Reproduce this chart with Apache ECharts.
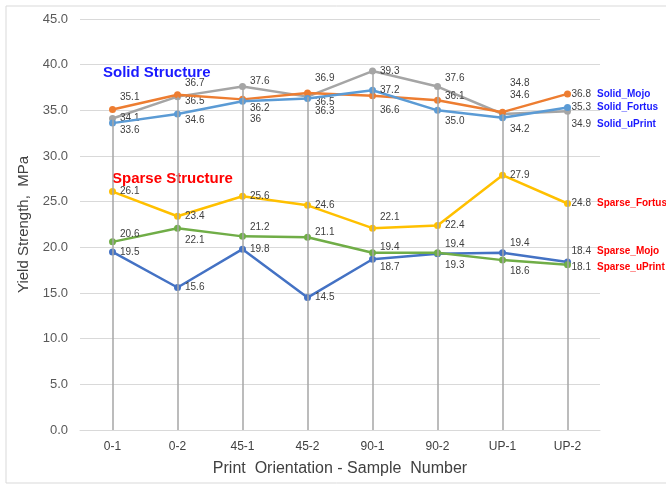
<!DOCTYPE html>
<html>
<head>
<meta charset="utf-8">
<script src="https://cdn.jsdelivr.net/npm/echarts@6/dist/echarts.min.js"></script>
<style>
  html, body { margin: 0; padding: 0; background: #fff; }
  #main { width: 666px; height: 487px; }
</style>
</head>
<body>
<div id="main"></div>
<script>
// categories and values
var categories = ['0-1', '0-2', '45-1', '45-2', '90-1', '90-2', 'UP-1', 'UP-2'];
var solidMojo    = [35.1, 36.7, 36.2, 36.9, 36.6, 36.1, 34.8, 36.8];
var solidFortus  = [33.6, 34.6, 36.0, 36.3, 37.2, 35.0, 34.2, 35.3];
var solidUPrint  = [34.1, 36.5, 37.6, 36.5, 39.3, 37.6, 34.6, 34.9];
var sparseFortus = [26.1, 23.4, 25.6, 24.6, 22.1, 22.4, 27.9, 24.8];
var sparseMojo   = [19.5, 15.6, 19.8, 14.5, 18.7, 19.3, 19.4, 18.4];
var sparseUPrint = [20.6, 22.1, 21.2, 21.1, 19.4, 19.4, 18.6, 18.1];
var yTicks = [0, 5, 10, 15, 20, 25, 30, 35, 40, 45];

// vertical nudges of the value labels (px), last one is for the end label
var nudge = {
  solidMojo:    [-12, -12, 9, -15, 15, -4, -29, 0],
  solidFortus:  [7, 6, 18, 13, 0, 11, 12, 0],
  solidUPrint:  [0, 5, -5, 6, 0, -8, -19, 13],
  sparseFortus: [0, 0, 0, 0, -11, 0, 0, 0],
  sparseMojo:   [0, 0, 0, 0, 8, 12, -10, -11],
  sparseUPrint: [-8, 12, -9, -5, -6, -9, 11, 3]
};

// excel printed the 36.0 of Solid_Fortus as "36"
function fmt(v, name) {
  if (name === 'Solid_Fortus' && v === 36) return '36';
  return v.toFixed(1);
}

function makeSeries(name, values, color, offs, nameColor, z) {
  var last = values.length - 1;
  var data = values.map(function (v, i) {
    if (i === last) return { value: v, label: { show: false } };
    return { value: v, label: { offset: [0, offs[i]] } };
  });
  return {
    name: name,
    type: 'line',
    data: data,
    z: z,
    symbol: 'circle',
    symbolSize: 7,
    lineStyle: { color: color, width: 2.5 },
    itemStyle: { color: color },
    label: {
      show: true,
      position: 'right',
      distance: 4,
      fontFamily: 'Liberation Sans',
      fontSize: 10,
      color: '#404040',
      formatter: function (p) { return fmt(p.value, name); }
    },
    endLabel: {
      show: true,
      distance: 4,
      offset: [0, offs[last]],
      formatter: function (p) {
        return '{v|' + fmt(p.value, name) + '}{n|' + name + '}';
      },
      rich: {
        v: { fontFamily: 'Liberation Sans', fontSize: 10, color: '#404040', padding: [0, 6, 0, 0] },
        n: { fontFamily: 'Liberation Sans', fontSize: 10, fontWeight: 'bold', color: nameColor }
      }
    },
    emphasis: { disabled: true },
    animation: false
  };
}

var chart = echarts.init(document.getElementById('main'));

var dropLines = solidUPrint.map(function (v, i) {
  return [{ coord: [i, v] }, { coord: [i, 0] }];
});

var series = [
  makeSeries('Solid_Mojo', solidMojo, '#ED7D31', nudge.solidMojo, '#1a1aff', 3),
  makeSeries('Solid_Fortus', solidFortus, '#5B9BD5', nudge.solidFortus, '#1a1aff', 3),
  makeSeries('Solid_uPrint', solidUPrint, '#A5A5A5', nudge.solidUPrint, '#1a1aff', 2),
  makeSeries('Sparse_Fortus', sparseFortus, '#FFC000', nudge.sparseFortus, '#ff0000', 3),
  makeSeries('Sparse_Mojo', sparseMojo, '#4472C4', nudge.sparseMojo, '#ff0000', 3),
  makeSeries('Sparse_uPrint', sparseUPrint, '#70AD47', nudge.sparseUPrint, '#ff0000', 3)
];
series[2].markLine = {
  silent: true,
  symbol: 'none',
  animation: false,
  label: { show: false },
  lineStyle: { color: '#a6a6a6', width: 1.5, type: 'solid' },
  emphasis: { disabled: true },
  data: dropLines
};

var option = {
  backgroundColor: '#fff',
  animation: false,
  grid: { left: 80, right: 66, top: 19, bottom: 57 },
  xAxis: {
    type: 'category',
    data: categories,
    boundaryGap: true,
    axisLine: { lineStyle: { color: '#d9d9d9', width: 1 } },
    axisTick: { show: false },
    axisLabel: { color: '#404040', fontFamily: 'Liberation Sans', fontSize: 12, margin: 11 },
    name: 'Print  Orientation - Sample  Number',
    nameLocation: 'middle',
    nameGap: 31,
    nameTextStyle: { color: '#404040', fontFamily: 'Liberation Sans', fontSize: 16 }
  },
  yAxis: {
    type: 'value',
    min: yTicks[0],
    max: yTicks[yTicks.length - 1],
    interval: yTicks[1] - yTicks[0],
    axisLine: { show: false },
    axisTick: { show: false },
    splitLine: { lineStyle: { color: '#d9d9d9', width: 1 } },
    axisLabel: {
      color: '#595959', fontFamily: 'Liberation Sans', fontSize: 13, margin: 12,
      formatter: function (v) { return v.toFixed(1); }
    },
    name: 'Yield Strength,  MPa',
    nameLocation: 'middle',
    nameGap: 46,
    nameTextStyle: { color: '#404040', fontFamily: 'Liberation Sans', fontSize: 15 }
  },
  graphic: [
    {
      type: 'rect', silent: true, z: -1,
      shape: { x: 6, y: 6, width: 700, height: 477 },
      style: { fill: 'none', stroke: '#d9d9d9', lineWidth: 1 }
    },
    {
      type: 'text', left: 103, top: 65,
      style: { text: 'Solid Structure', fill: '#1a1aff', font: 'bold 15px "Liberation Sans"' }
    },
    {
      type: 'text', left: 112, top: 171,
      style: { text: 'Sparse Structure', fill: '#ff0000', font: 'bold 15px "Liberation Sans"' }
    }
  ],
  series: series
};

chart.setOption(option);
</script>
</body>
</html>
